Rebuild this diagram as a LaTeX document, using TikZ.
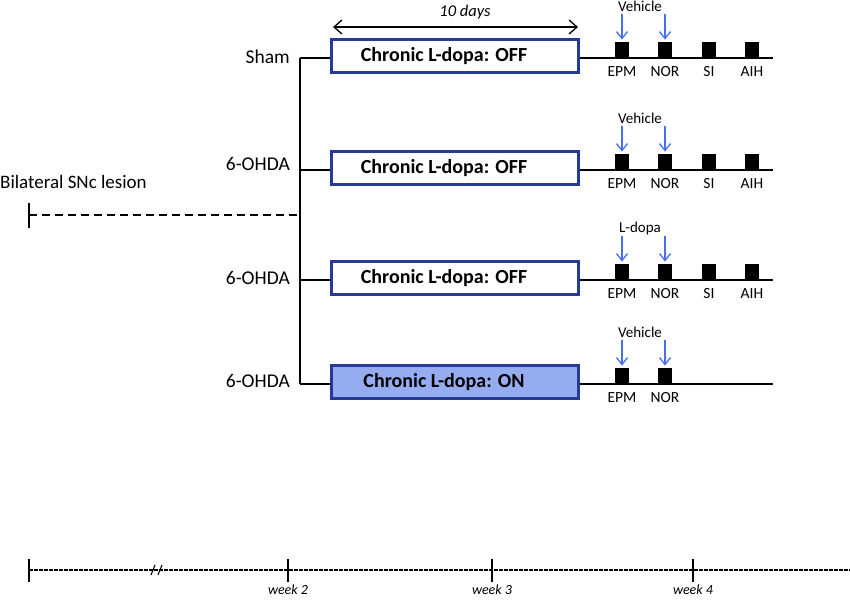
\documentclass[tikz,border=0pt]{standalone}
\usepackage{fontspec}
\setmainfont{Carlito}
\usetikzlibrary{arrows.meta}
\definecolor{boxblue}{RGB}{38,58,150}
\definecolor{onfill}{RGB}{150,172,240}
\definecolor{arrblue}{RGB}{70,110,240}
\tikzset{
  x=1pt,y=-1pt,
  line/.style={draw=black,line width=1.2pt},
  chronic/.style={draw=boxblue,line width=2.2pt,minimum width=247pt,minimum height=33pt,inner sep=0pt},
  ctext/.style={font=\fontsize{20}{22}\selectfont\bfseries,inner sep=0pt},
  sq/.style={fill=black,minimum width=14pt,minimum height=16pt,inner sep=0pt,anchor=south},
  tlab/.style={font=\fontsize{15.5}{17}\selectfont,anchor=north,inner sep=0pt},
  grp/.style={font=\fontsize{19.5}{21}\selectfont,anchor=east,inner sep=0pt},
  trt/.style={font=\fontsize{15}{17}\selectfont,inner sep=0pt},
  drug/.style={draw=arrblue,line width=1.3pt,-{Straight Barb[length=7pt,width=11pt]}},
  wk/.style={font=\fontsize{14}{16}\selectfont\itshape,inner sep=0pt},
}
\begin{document}
\begin{tikzpicture}
\useasboundingbox (0,0) rectangle (850,599);
% ---------- left lesion
\node[font=\fontsize{19}{21}\selectfont,anchor=west,inner sep=0pt] (bil) at (0,182) {Bilateral SNc lesion};
\coordinate (lesA) at (29,215);
\coordinate (lesB) at (300,215);
\draw[line width=1.2pt] (29,203) -- (29,228);
\draw[line width=1.2pt,dash pattern=on 8pt off 5pt] (lesA) -- (lesB);
% ---------- trunk
\coordinate (t1) at (300,58);
\coordinate (t2) at (300,170);
\coordinate (t3) at (300,280);
\coordinate (t4) at (300,384);
\draw[line width=1.2pt] (t1) -- (t4);
% 10 days
\coordinate (dA) at (333,27);
\coordinate (dB) at (578,27);
\draw[line width=1.3pt,{Straight Barb[length=8pt,width=14pt]}-{Straight Barb[length=8pt,width=14pt]}] (dA) -- (dB);
\node[font=\fontsize{16.5}{18}\selectfont\itshape,inner sep=0pt] (days) at (465,12) {10 days};
% ---------- rows
\foreach \i/\y/\gy/\fc/\txt/\trtlab/\full in {
  1/58/57/white/{Chronic L-dopa: OFF}/Vehicle/1,
  2/170/164/white/{Chronic L-dopa: OFF}/Vehicle/1,
  3/280/278/white/{Chronic L-dopa: OFF}/L-dopa/1,
  4/384/381/onfill/{Chronic L-dopa: ON}/Vehicle/0}{
  \ifnum\i=1 \def\lab{Sham}\else\def\lab{6-OHDA}\fi
  \node[grp] (g\i) at (290,\gy) {\lab};
  \node[chronic,fill=\fc] (box\i) at (455,\y-2) {};
  \node[ctext] (txt\i) at ([xshift=-11pt]box\i.center) {\txt};
  \coordinate (end\i) at (773,\y);
  \draw[line] (t\i) -- (box\i.west|-t\i);
  \draw[line] (box\i.east|-end\i) -- (end\i);
  \node[sq] (epm\i) at (622,\y) {};
  \node[sq] (nor\i) at (665,\y) {};
  \node[tlab] (lepm\i) at (622,\y+8) {EPM};
  \node[tlab] (lnor\i) at (665,\y+8) {NOR};
  \coordinate (aE\i) at (622,\y-44);
  \coordinate (aN\i) at (665,\y-44);
  \draw[drug] (aE\i) -- ([yshift=2pt]epm\i.north);
  \draw[drug] (aN\i) -- ([yshift=2pt]nor\i.north);
  \node[trt] (trt\i) at (640,\y-52) {\trtlab};
  \ifnum\full=1
    \node[sq] (si\i) at (709,\y) {};
    \node[sq] (aih\i) at (752,\y) {};
    \node[tlab] (lsi\i) at (709,\y+8) {SI};
    \node[tlab] (laih\i) at (752,\y+8) {AIH};
  \fi
}
% ---------- bottom timeline
\coordinate (tlA) at (29,570);
\coordinate (tlB) at (850,570);
\draw[line width=1.1pt,dash pattern=on 3.5pt off 1.5pt] (tlA) -- (tlB);
\foreach \n/\x in {0/29,2/288,3/492,4/693}{
  \draw[line width=1.2pt] (\x,559) -- (\x,582);
}
\draw[line width=1.1pt] (151,575) -- (155,565);
\draw[line width=1.1pt] (158,575) -- (162,565);
\node[wk] (w2) at (288,590) {week 2};
\node[wk] (w3) at (492,590) {week 3};
\node[wk] (w4) at (693,590) {week 4};
\end{tikzpicture}
\end{document}
